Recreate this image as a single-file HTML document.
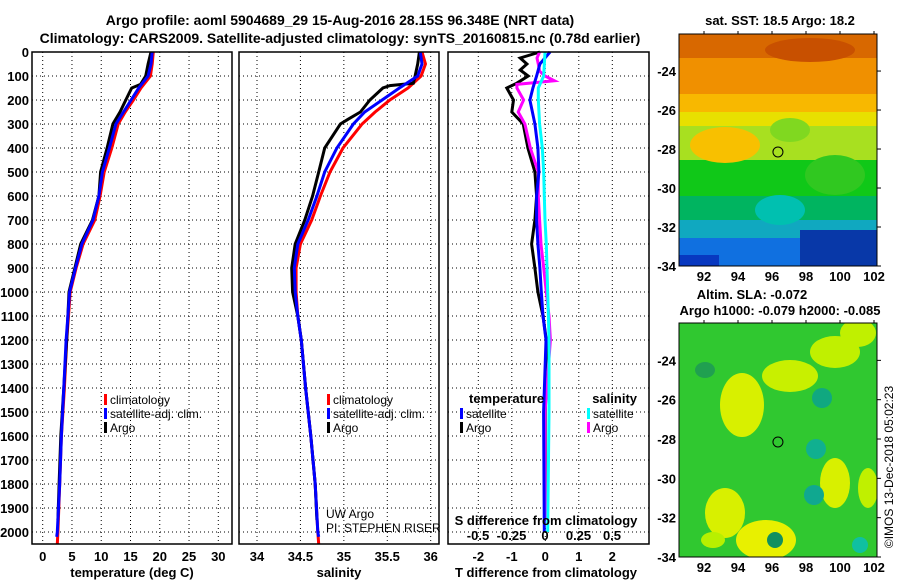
<!DOCTYPE html>
<html><head><meta charset="utf-8"><style>
html,body{margin:0;padding:0;background:#fff;}
svg{display:block;font-family:"Liberation Sans",sans-serif;}
.b{font-weight:bold;font-size:13px;}
.t{font-weight:bold;font-size:14px;}
</style></head><body>
<svg id="c" width="900" height="580" viewBox="0 0 900 580" xmlns="http://www.w3.org/2000/svg">
<text class="t" x="340" y="25" text-anchor="middle">Argo profile: aoml 5904689_29 15-Aug-2016 28.15S 96.348E (NRT data)</text>
<text class="t" x="340" y="43" text-anchor="middle">Climatology: CARS2009. Satellite-adjusted climatology: synTS_20160815.nc (0.78d earlier)</text>
<g id="plots"></g>
</svg>
<script>
// depth ticks
const depthTicks=[0,100,200,300,400,500,600,700,800,900,1000,1100,1200,1300,1400,1500,1600,1700,1800,1900,2000];
const tempTicks=[0,5,10,15,20,25,30];
const salTicks=[34,34.5,35,35.5,36];
const salTickLabels=["34","34.5","35","35.5","36"];
const tdTicks=[-2,-1,0,1,2];
const sdTicks=[-0.5,-0.25,0,0.25,0.5];
const sdTickLabels=["-0.5","-0.25","0","0.25","0.5"];
// temperature profiles
const tClimDepth=[0,50,100,150,200,250,300,400,500,600,700,800,900,1000,1100,1200,1400,1600,1800,2000,2050];
const tClim=[18.9,18.7,18.4,16.8,15.5,14.1,12.9,11.8,10.5,9.8,8.9,6.9,5.7,4.7,4.4,4.1,3.7,3.2,2.9,2.6,2.5];
const tSatDepth=[0,50,100,150,200,250,300,400,500,600,700,800,900,1000,1100,1200,1400,1600,1800,2000,2020];
const tSat=[18.7,18.5,18.0,16.4,15.1,13.8,12.5,11.4,10.2,9.6,8.6,6.7,5.6,4.6,4.3,4.0,3.6,3.2,2.9,2.5,2.4];
const tArgoDepth=[0,50,100,135,150,200,250,300,400,500,600,700,800,900,1000,1100,1200,1400,1600,1800,1950];
const tArgo=[18.5,18.0,17.6,16.7,15.2,14.2,13.2,12.0,11.0,9.9,9.6,8.5,6.5,5.5,4.5,4.3,4.1,3.6,3.1,2.8,2.6];
// salinity profiles
const sClimDepth=[0,50,100,150,200,250,300,400,500,600,700,800,900,1000,1100,1200,1400,1600,1800,2000,2050];
const sClim=[35.90,35.94,35.89,35.74,35.53,35.36,35.21,34.99,34.84,34.73,34.63,34.50,34.45,34.45,34.47,34.51,34.56,34.62,34.67,34.70,34.71];
const sSatDepth=[0,50,100,150,200,250,300,400,500,600,700,800,900,1000,1100,1200,1400,1600,1800,2000,2020];
const sSat=[35.88,35.90,35.85,35.64,35.44,35.24,35.11,34.92,34.78,34.69,34.59,34.47,34.43,34.44,34.47,34.51,34.56,34.62,34.67,34.70,34.71];
const sArgoDepth=[0,50,100,130,140,150,200,250,280,300,400,500,600,700,800,900,1000,1100,1200,1400,1600,1800,1950];
const sArgo=[35.87,35.85,35.82,35.80,35.53,35.45,35.30,35.19,35.05,34.96,34.78,34.71,34.64,34.55,34.44,34.40,34.41,34.47,34.51,34.56,34.62,34.67,34.69];
// difference profiles
const dTSatDepth=[0,50,100,150,200,300,400,500,600,700,800,900,1000,1100,1200,1500,2000];
const dTSat=[0.14,-0.16,-0.26,-0.37,-0.46,-0.31,-0.22,-0.19,-0.26,-0.26,-0.22,-0.16,-0.12,-0.07,0.02,-0.05,-0.03];
const dTArgoDepth=[0,25,50,75,100,130,150,200,250,300,400,500,600,700,800,900,1000,1100,1200,1500,1950];
const dTArgo=[-0.16,-0.75,-0.55,-0.75,-0.51,-0.85,-1.15,-0.95,-1.0,-0.66,-0.52,-0.31,-0.26,-0.31,-0.41,-0.31,-0.22,-0.07,0.03,0.0,0.0];
const dSSatDepth=[0,100,150,200,300,400,500,600,700,800,900,1000,1100,1200,1500,2000];
const dSSat=[0.0,-0.01,-0.05,-0.05,-0.04,-0.02,-0.01,-0.005,0.0,0.01,0.015,0.02,0.025,0.03,0.03,0.02];
const dSArgoDepth=[0,25,50,80,100,120,135,150,200,250,300,400,500,600,700,800,900,1000,1100,1200,1500,1950];
const dSArgo=[-0.04,-0.06,-0.05,-0.04,0.0,0.07,-0.21,-0.21,-0.16,-0.2,-0.15,-0.11,-0.05,-0.05,-0.04,-0.03,-0.01,0.01,0.03,0.04,0.0,0.0];

const NS="http://www.w3.org/2000/svg";
const root=document.getElementById('plots');
function mk(tag,attrs,parent,text){const e=document.createElementNS(NS,tag);for(const k in attrs)e.setAttribute(k,attrs[k]);if(text!==undefined)e.textContent=text;(parent||root).appendChild(e);return e;}
const yTop=52,ppm=0.24,yBot=544;
function yD(d){return yTop+d*ppm;}
function lin(d0,d1,r0,r1){return v=>r0+(v-d0)/(d1-d0)*(r1-r0);}
const xT=lin(0,30,42.7,218.3);
const xS=lin(34,36,257,430.7);
const xTD=lin(-2,2,478.3,612.3);
const xSD=lin(-0.5,0.5,478,612);

function panel(name,x0,x1,gridX){
  const g=mk('g',{});
  
  
  depthTicks.forEach(d=>{if(d>0){const l=mk('line',{x1:x0,x2:x1,y1:yD(d),y2:yD(d),stroke:'#000','stroke-width':1,'stroke-dasharray':'1,3'},g);}});
  gridX.forEach(x=>{const l=mk('line',{x1:x,x2:x,y1:yTop,y2:yBot,stroke:'#000','stroke-width':1,'stroke-dasharray':'1,3'},g);});
  return g;
}
function frame(g,x0,x1){const r=mk('rect',{x:x0,y:yTop,width:x1-x0,height:yBot-yTop,fill:'none',stroke:'#000','stroke-width':1.5},g);}
function series(g,depths,vals,xf,color,name){
  const pts=depths.map((d,i)=>xf(vals[i]).toFixed(1)+','+yD(d).toFixed(1)).join(' ');
  const p=mk('polyline',{points:pts,fill:'none',stroke:color,'stroke-width':3,'stroke-linejoin':'miter'},g);
  
  
}
function txt(g,x,y,s,anchor,name,cls){const t=mk('text',{x:x,y:y,'text-anchor':anchor||'start',class:cls||'b'},g,s);return t;}
function legend(g,x,y,color,label,name){
  const r=mk('rect',{x:x,y:y-10,width:3,height:11,fill:color},g);
  
  const t=txt(g,x+6,y,label,'start',name,'b');t.setAttribute('font-weight','normal');t.setAttribute('style','font-weight:normal;font-size:12px');
}

// depth axis labels
depthTicks.forEach(d=>{const t=txt(root,29,yD(d)+5,String(d),'end','depth-tick-label');});

// Panel 1 temperature
const g1=panel('temperature-panel',32,232,tempTicks.map(xT));
series(g1,tClimDepth,tClim,xT,'#f00','temp-climatology-line');
series(g1,tArgoDepth,tArgo,xT,'#000','temp-argo-line');
series(g1,tSatDepth,tSat,xT,'#00f','temp-satellite-line');
frame(g1,32,232);
tempTicks.forEach(v=>txt(g1,xT(v),561,String(v),'middle','temp-tick-label'));
txt(g1,132,577,'temperature (deg C)','middle','temp-axis-title');
legend(g1,104,404,'#f00','climatology','legend-climatology');
legend(g1,104,418,'#00f','satellite-adj. clim.','legend-satellite');
legend(g1,104,432,'#000','Argo','legend-argo');

// Panel 2 salinity
const g2=panel('salinity-panel',239,439,salTicks.map(xS));
series(g2,sClimDepth,sClim,xS,'#f00','sal-climatology-line');
series(g2,sArgoDepth,sArgo,xS,'#000','sal-argo-line');
series(g2,sSatDepth,sSat,xS,'#00f','sal-satellite-line');
frame(g2,239,439);
salTicks.forEach((v,i)=>txt(g2,xS(v),561,salTickLabels[i],'middle','sal-tick-label'));
txt(g2,339,577,'salinity','middle','sal-axis-title');
legend(g2,327,404,'#f00','climatology','legend-climatology');
legend(g2,327,418,'#00f','satellite-adj. clim.','legend-satellite');
legend(g2,327,432,'#000','Argo','legend-argo');
(function(){const a=txt(g2,326,518,'UW Argo','start','float-owner');a.setAttribute('style','font-weight:normal;font-size:12px');
const b=txt(g2,326,532,'PI: STEPHEN RISER','start','float-pi');b.setAttribute('style','font-weight:normal;font-size:12px');})();

// Panel 3 differences
const g3=panel('difference-panel',448,649,tdTicks.map(xTD));
series(g3,dTArgoDepth,dTArgo,xTD,'#000','tdiff-argo-line');
series(g3,dSArgoDepth,dSArgo,xSD,'#f0f','sdiff-argo-line');
series(g3,dTSatDepth,dTSat,xTD,'#00f','tdiff-satellite-line');
series(g3,dSSatDepth,dSSat,xSD,'#0ff','sdiff-satellite-line');
frame(g3,448,649);
tdTicks.forEach(v=>txt(g3,xTD(v),561,String(v),'middle','tdiff-tick-label'));
txt(g3,546,577,'T difference from climatology','middle','tdiff-axis-title');
txt(g3,546,525,'S difference from climatology','middle','sdiff-axis-title');
sdTicks.forEach((v,i)=>txt(g3,xSD(v),540,sdTickLabels[i],'middle','sdiff-tick-label'));
txt(g3,469,403,'temperature','start','legend-temperature-heading');
legend(g3,460,418,'#00f','satellite','legend-tdiff-satellite');
legend(g3,460,432,'#000','Argo','legend-tdiff-argo');
txt(g3,637,403,'salinity','end','legend-salinity-heading');
legend(g3,587,418,'#0ff','satellite','legend-sdiff-satellite');
legend(g3,587,432,'#f0f','Argo','legend-sdiff-argo');

// Maps
const lonX=lin(92,102,704,874);
const mapLonTicks=[92,94,96,98,100,102];
const mapLatTicks=[-24,-26,-28,-30,-32,-34];
function map(name,y0,y1,latTop,bands,blobs,title1,title2){
  const g=mk('g',{});
  
  const latY=lin(-34,latTop,y1,y0);
  const cp='clip'+y0;
  const d=mk('defs',{},g);const c=mk('clipPath',{id:cp},d);mk('rect',{x:679,y:y0,width:198,height:y1-y0},c);
  const im=mk('g',{'clip-path':'url(#'+cp+')'},g);
  bands.forEach(b=>{const r=mk('rect',{x:b[0],y:b[1],width:b[2],height:b[3],fill:b[4]},im);});
  blobs.forEach(b=>{const e=mk('ellipse',{cx:b[0],cy:b[1],rx:b[2],ry:b[3],fill:b[4]},im);});
  const r=mk('rect',{x:679,y:y0,width:198,height:y1-y0,fill:'none',stroke:'#000','stroke-width':1},g);
  const ci=mk('circle',{cx:lonX(96.35),cy:latY(-28.15),r:5,fill:'none',stroke:'#000','stroke-width':1},g);
  mapLatTicks.forEach(v=>{txt(g,676,latY(v)+5,String(v),'end','map-lat-label');mk('line',{x1:877,x2:881,y1:latY(v),y2:latY(v),stroke:'#000'},g);});
  mapLonTicks.forEach(v=>{txt(g,lonX(v),y1+15,String(v),'middle','map-lon-label');mk('line',{x1:lonX(v),x2:lonX(v),y1:y0-3,y2:y0,stroke:'#000'},g);});
  txt(g,title1[0],title1[1],title1[2],'middle','map-title');
  if(title2)txt(g,title2[0],title2[1],title2[2],'middle','map-subtitle');
}
map('sst-map',34,266,-22.1,[
 [679,34,198,30,'#d86800'],[679,58,198,40,'#f09000'],[679,94,198,20,'#f8b800'],
 [679,112,198,16,'#e8e000'],[679,126,198,36,'#a8e020'],[679,160,198,40,'#10c818'],
 [679,196,198,26,'#00b460'],[679,220,198,20,'#10a8c0'],[679,238,198,28,'#1070e0'],
 [800,230,77,36,'#0838a8'],[679,255,40,11,'#0838c0']
],[[725,145,35,18,'#f8c000'],[780,210,25,15,'#00c0b0'],[835,175,30,20,'#30c820'],[810,50,45,12,'#c85000'],[790,130,20,12,'#80d820']],
 [780,25,'sat. SST: 18.5 Argo: 18.2'],null);
map('sla-map',323,557,-22.1,[[679,323,198,234,'#30c830']],[
 [742,405,22,32,'#d8f000'],[725,513,20,25,'#d8f000'],[766,540,30,20,'#e8f000'],[790,376,28,16,'#c8f000'],
 [835,352,25,16,'#c0f000'],[858,333,18,14,'#c0f000'],[835,483,15,25,'#d8f000'],[868,488,10,20,'#c0f000'],
 [713,540,12,8,'#b8f000'],[822,398,10,10,'#10a880'],[816,449,10,10,'#10b090'],[814,495,10,10,'#10a890'],
 [860,545,8,8,'#10c0a0'],[775,540,8,8,'#109060'],[705,370,10,8,'#20a050']
],[752,299,'Altim. SLA: -0.072'],[780,315,'Argo h1000: -0.079 h2000: -0.085']);
(function(){const t=txt(root,0,0,'©IMOS 13-Dec-2018 05:02:23','middle','timestamp');t.setAttribute('transform','translate(893,467) rotate(-90)');t.setAttribute('style','font-weight:normal;font-size:12px');})();
</script>
</body></html>
